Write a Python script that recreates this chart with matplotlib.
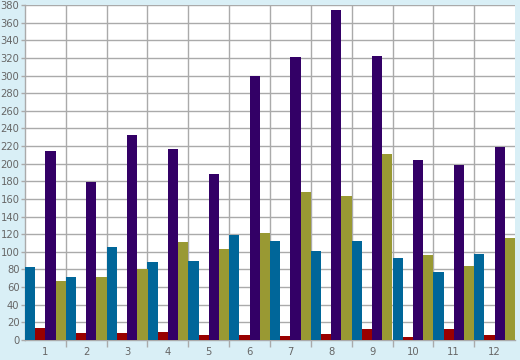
import numpy as np
import matplotlib
matplotlib.use("Agg")
import matplotlib.pyplot as plt
from matplotlib.ticker import MultipleLocator, FixedLocator

# data
groups = ["1", "2", "3", "4", "5", "6", "7", "8", "9", "10", "11", "12"]
blue = [83, 72, 106, 89, 90, 119, 112, 101, 112, 93, 77, 98]
red = [14, 8, 8, 9, 6, 6, 5, 7, 12, 3, 13, 6]
purple = [214, 179, 233, 217, 188, 299, 321, 374, 322, 204, 199, 219]
olive = [67, 71, 81, 111, 103, 121, 168, 163, 211, 96, 84, 116]

series = [blue, red, purple, olive]
colors = ["#006699", "#990000", "#330066", "#999933"]

bg = "#d9eff6"
grid_c = "#aaaaaa"
text_c = "#666666"

fig = plt.figure(figsize=(5.2, 3.6), dpi=100, facecolor=bg)
ax = fig.add_axes([25 / 520, 20 / 360, 490 / 520, 335 / 360])
ax.set_facecolor("white")

n = len(groups)
x = np.arange(n)
w = 0.25
for i, (vals, c) in enumerate(zip(series, colors)):
    ax.bar(x - 0.5 + w * i, vals, width=w, align="edge", color=c, zorder=3)

ax.set_xlim(-0.5, n - 0.5)
ax.set_ylim(0, 380)

# y axis
ax.yaxis.set_major_locator(MultipleLocator(20))
ax.tick_params(axis="y", length=3, width=1, color=grid_c, labelcolor=text_c,
               labelsize=7.2, pad=1)

# x axis: labels at group centres, marks at boundaries
ax.set_xticks(x)
ax.set_xticklabels(groups)
ax.tick_params(axis="x", which="major", length=0, labelcolor=text_c,
               labelsize=7.2, pad=5)
ax.xaxis.set_minor_locator(FixedLocator(np.arange(0.5, n - 0.5, 1)))
ax.tick_params(axis="x", which="minor", length=5, width=1, color=grid_c)

ax.grid(axis="y", which="major", color=grid_c, linewidth=1, zorder=0)
ax.grid(axis="x", which="minor", color=grid_c, linewidth=1, zorder=0)

for s in ["top", "right"]:
    ax.spines[s].set_visible(False)
for s in ["left", "bottom"]:
    ax.spines[s].set_color(grid_c)
    ax.spines[s].set_linewidth(1)

fig.savefig("out.png", dpi=100, facecolor=bg)
